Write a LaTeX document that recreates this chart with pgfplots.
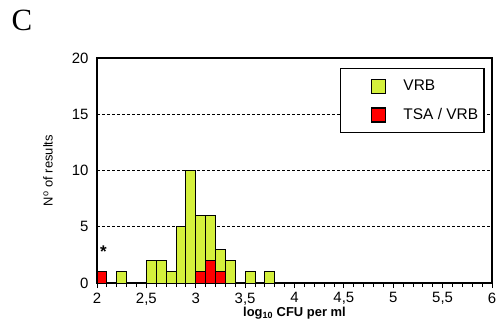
\documentclass[border=0pt]{standalone}
\usepackage{pgfplots}
\pgfplotsset{compat=1.18}
\usepackage{fontspec}
\setmainfont{Liberation Sans}
\newfontfamily\seriffont{Liberation Serif}
\definecolor{vrbgreen}{RGB}{212,240,60}
\definecolor{tsared}{RGB}{255,0,0}
\begin{document}
\begin{tikzpicture}[x=1bp,y=1bp]
\useasboundingbox (0,0) rectangle (499,331);
\node[font=\seriffont\fontsize{31}{31}\selectfont, anchor=center] at (22,311) {C};
\begin{axis}[
  at={(97bp,48bp)}, anchor=south west, scale only axis,
  width=395bp, height=225bp,
  xmin=2, xmax=6, ymin=0, ymax=20,
  xtick={2,2.5,...,6},
  xticklabels={2,{2,5},3,{3,5},4,{4,5},5,{5,5},6},
  minor x tick num=4,
  ytick={0,5,10,15,20}, yticklabels={0,5,10,15,20},
  xtick pos=bottom, ytick pos=left,
  tick align=outside,
  major tick length=5bp, minor tick length=4bp,
  xtick style={black, line width=0.8bp},
  ytick style={draw=none},
  ticklabel style={font=\fontsize{15}{17}\selectfont},
  xticklabel style={inner sep=1.5bp, yshift=-3bp},
  axis line style={black, line width=1.7bp},
  ymajorgrids,
  grid style={black, line width=0.8bp, dash pattern=on 3bp off 2bp},
  xlabel={log\textsubscript{\fontsize{9}{9}\selectfont 10} CFU per ml},
  xlabel style={font=\fontsize{13}{15}\selectfont\bfseries, inner sep=0.5bp, at={(axis description cs:0.5,0)}, anchor=base, yshift=-33bp},
  ylabel={N\textsuperscript{o} of results},
  ylabel style={font=\fontsize{13}{15}\selectfont, at={(axis description cs:0,0.5)}, anchor=center, yshift=49bp},
  legend style={at={(0.982,0.956)}, anchor=north east, draw=black, line width=1.5bp, fill=white,
    font=\fontsize{15.5}{18}\selectfont, inner xsep=6bp, inner ysep=10bp, row sep=13bp,
    nodes={inner sep=0pt}},
  legend cell align=left,
  /tikz/every odd column/.style={column sep=17bp},
  legend image code/.code={\path (-25bp,0bp); \draw[#1, draw=black, line width=1.5bp] (0bp,-7bp) rectangle (14bp,7bp);},
]
\addplot[ybar, bar width=0.1, bar shift=0pt, fill=vrbgreen, draw=black, line width=0.8bp] table {
x y
2.05 1
2.25 1
2.55 2
2.65 2
2.75 1
2.85 5
2.95 10
3.05 6
3.15 6
3.25 3
3.35 2
3.55 1
3.75 1
};
\addlegendentry{VRB}
\addplot[ybar, bar width=0.1, bar shift=0pt, fill=tsared, draw=black, line width=0.8bp] table {
x y
2.05 1
3.05 1
3.15 2
3.25 1
};
\addlegendentry{TSA / VRB}
\node[font=\fontsize{17}{17}\selectfont\bfseries, anchor=center] at (axis cs:2.065,2.8) {*};
\end{axis}
\end{tikzpicture}
\end{document}
